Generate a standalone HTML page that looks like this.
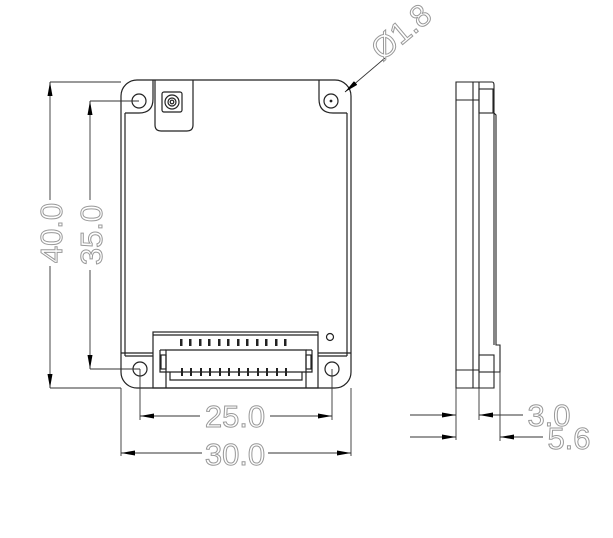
<!DOCTYPE html>
<html><head><meta charset="utf-8"><style>html,body{margin:0;padding:0;background:#fff}svg{display:block}</style></head>
<body>
<svg width="613" height="538" viewBox="0 0 613 538" xmlns="http://www.w3.org/2000/svg">
<defs>
<marker id="ar" viewBox="0 0 14 5" refX="14" refY="2.5" markerWidth="14" markerHeight="5" markerUnits="userSpaceOnUse" orient="auto"><path d="M0,0L14,2.5L0,5z" fill="#000"/></marker>
</defs>
<g fill="none" stroke="#222" stroke-width="1.2">
<rect x="121" y="80" width="230" height="308" rx="16"/>
<line x1="125" y1="113" x2="125" y2="356"/>
<line x1="347" y1="113" x2="347" y2="356"/>
<path d="M125,113 H139 Q153,113 153,99 V80"/>
<path d="M347,113 H333 Q319,113 319,99 V80"/>
<path d="M121,353 H153"/><path d="M318,353 H351"/>
<line x1="125" y1="356" x2="153" y2="356"/>
<line x1="318" y1="356" x2="347" y2="356"/>
<circle cx="139" cy="101" r="7"/>
<circle cx="331" cy="101" r="7"/>
<circle cx="331" cy="101" r="0.8" fill="#222"/>
<circle cx="140" cy="369" r="7"/>
<circle cx="332" cy="369" r="7"/>
<circle cx="330" cy="337" r="3.5"/>
<path d="M155,80 V125 Q155,131 161,131 H187 Q193,131 193,125 V80"/>
<rect x="162" y="92" width="20" height="20" rx="2"/>
<circle cx="172" cy="102" r="7"/>
<circle cx="172" cy="102" r="4"/>
<circle cx="172" cy="102" r="1.8"/>
<rect x="153" y="332" width="165" height="56"/>
<line x1="153" y1="335" x2="318" y2="335"/>
<path d="M166,388 V350 H306 V388"/>
<path d="M160,350 H166"/><path d="M306,350 H312"/>
<path d="M160,350 V372 H312 V350"/>
<rect x="161" y="355" width="5" height="14"/>
<rect x="306" y="355" width="5" height="14"/>
<path d="M170,372 V380 H302 V372"/>
</g>
<g fill="#222">
<rect x="180" y="339" width="2.5" height="7"/><rect x="189" y="339" width="2.5" height="7"/><rect x="199" y="339" width="2.5" height="7"/><rect x="208" y="339" width="2.5" height="7"/><rect x="218" y="339" width="2.5" height="7"/><rect x="227" y="339" width="2.5" height="7"/><rect x="237" y="339" width="2.5" height="7"/><rect x="246" y="339" width="2.5" height="7"/><rect x="256" y="339" width="2.5" height="7"/><rect x="265" y="339" width="2.5" height="7"/><rect x="275" y="339" width="2.5" height="7"/><rect x="284" y="339" width="2.5" height="7"/>
<rect x="181" y="368" width="2" height="8"/><rect x="190" y="368" width="2" height="8"/><rect x="200" y="368" width="2" height="8"/><rect x="209" y="368" width="2" height="8"/><rect x="219" y="368" width="2" height="8"/><rect x="228" y="368" width="2" height="8"/><rect x="238" y="368" width="2" height="8"/><rect x="247" y="368" width="2" height="8"/><rect x="257" y="368" width="2" height="8"/><rect x="266" y="368" width="2" height="8"/><rect x="276" y="368" width="2" height="8"/><rect x="285" y="368" width="2" height="8"/>
</g>
<g fill="none" stroke="#222" stroke-width="1.1">
<path d="M456,82 H492 Q494,82 494,85 V113 L496,115 V345 H500 V372 H494 V388 H456 Z"/>
<line x1="473" y1="82" x2="473" y2="388"/>
<line x1="479" y1="82" x2="479" y2="388"/>
<line x1="456" y1="100" x2="479" y2="100"/>
<line x1="456" y1="370" x2="479" y2="370"/>
<rect x="479" y="89" width="14" height="24"/>
<line x1="494" y1="113" x2="494" y2="345"/>
<rect x="479" y="355" width="15" height="17"/>
</g>
<g stroke="#333" stroke-width="0.9" fill="none">
<line x1="50" y1="82" x2="121" y2="82"/><line x1="50" y1="388" x2="121" y2="388"/>
<line x1="50" y1="200" x2="50" y2="82" marker-end="url(#ar)"/>
<line x1="50" y1="266" x2="50" y2="388" marker-end="url(#ar)"/>
<line x1="90" y1="101" x2="139" y2="101"/><line x1="90" y1="369" x2="140" y2="369"/>
<line x1="90" y1="200" x2="90" y2="101" marker-end="url(#ar)"/>
<line x1="90" y1="270" x2="90" y2="369" marker-end="url(#ar)"/>
<line x1="140" y1="369" x2="140" y2="420"/><line x1="332" y1="369" x2="332" y2="420"/>
<line x1="200" y1="416" x2="140" y2="416" marker-end="url(#ar)"/>
<line x1="270" y1="416" x2="332" y2="416" marker-end="url(#ar)"/>
<line x1="121" y1="388" x2="121" y2="456"/><line x1="351" y1="388" x2="351" y2="456"/>
<line x1="202" y1="453" x2="121" y2="453" marker-end="url(#ar)"/>
<line x1="268" y1="453" x2="351" y2="453" marker-end="url(#ar)"/>
<line x1="385" y1="58" x2="345" y2="92" marker-end="url(#ar)"/>
<line x1="456" y1="388" x2="456" y2="440"/>
<line x1="479" y1="388" x2="479" y2="420"/>
<line x1="500" y1="372" x2="500" y2="441"/>
<line x1="410" y1="415" x2="456" y2="415" marker-end="url(#ar)"/>
<line x1="410" y1="437" x2="456" y2="437" marker-end="url(#ar)"/>
<line x1="523" y1="415" x2="479" y2="415" marker-end="url(#ar)"/>
<line x1="543" y1="437" x2="500" y2="437" marker-end="url(#ar)"/>
</g>
<g font-family="Liberation Sans Narrow, Liberation Sans, sans-serif" font-size="31" fill="none" stroke="#999" stroke-width="1" text-anchor="middle">
<text transform="translate(62,233) rotate(-90)">40.0</text>
<text transform="translate(102,235) rotate(-90)">35.0</text>
<text x="235" y="427">25.0</text>
<text x="235" y="465">30.0</text>
<text x="549" y="426">3.0</text>
<text x="569" y="449">5.6</text>
<text transform="translate(408,40) rotate(-40)">Ø1.8</text>
</g>
</svg>
</body></html>
